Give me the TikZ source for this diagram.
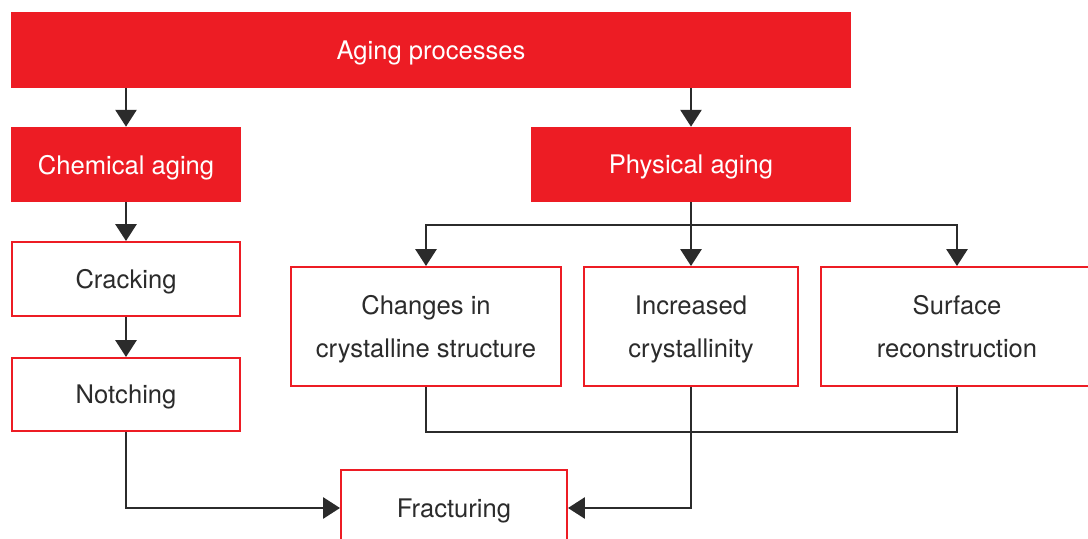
\documentclass[tikz,border=0pt]{standalone}
\usepackage{fontspec}
\setmainfont{TeX Gyre Heros}
\usepackage{tikz}
\usetikzlibrary{arrows.meta,positioning}

\definecolor{agered}{HTML}{ED1C24}
\definecolor{agetext}{HTML}{2B2B2B}

\begin{document}
\begin{tikzpicture}[x=0.025cm,y=-0.025cm]
	
	\tikzset{headbox/.style = {shape=rectangle,fill=agered,text=white,inner sep=0pt,text depth=0pt,font=\fontsize{18.2}{30.5}\selectfont}}
	\tikzset{stepbox/.style = {shape=rectangle,draw=agered,line width=1.4pt,fill=white,text=agetext,inner sep=0pt,text depth=0pt,align=center,font=\fontsize{18.2}{30.5}\selectfont}}
	\tikzset{edge/.style = {-{Triangle[length=12pt,width=15pt]},line width=1.6pt,draw=agetext}}
	\tikzset{link/.style = {line width=1.6pt,draw=agetext}}
	
	\clip (0,0) rectangle (1088,539);
	\fill[white] (0,0) rectangle (1088,539);
	
	\node[headbox,minimum width=21cm,minimum height=1.9cm] (aging) at (431,50) {Aging processes};
	\node[headbox,minimum width=5.725cm,minimum height=1.875cm] (chem) at (126,164.5) {Chemical aging};
	\node[headbox,minimum width=8cm,minimum height=1.875cm] (phys) at (691,164.5) {Physical aging};
	
	\node[stepbox,minimum width=5.7cm,minimum height=1.85cm] (crack) at (126,279) {Cracking};
	\node[stepbox,minimum width=5.7cm,minimum height=1.825cm] (notch) at (126,394.5) {Notching};
	
	\node[stepbox,minimum width=6.75cm,minimum height=2.975cm] (changes) at (426,326.5) {Changes in\\crystalline structure};
	\node[stepbox,minimum width=5.35cm,minimum height=2.975cm] (incr) at (691,326.5) {Increased\\crystallinity};
	\node[stepbox,minimum width=6.8cm,minimum height=2.975cm] (surf) at (957,326.5) {Surface\\reconstruction};
	
	\node[stepbox,minimum width=5.65cm,minimum height=1.9cm] (fract) at (454,508) {Fracturing};
	
	\coordinate (split) at (691,225);
	
	\draw[edge] (aging.south -| chem.north) -- (chem.north);
	\draw[edge] (aging.south -| phys.north) -- (phys.north);
	\draw[edge] (chem) -- (crack);
	\draw[edge] (crack) -- (notch);
	
	\draw[edge] (phys.south) -- (incr.north);
	\draw[edge] (split) -| (changes.north);
	\draw[edge] (split) -| (surf.north);
	
	\draw[link] (changes.south) -- ++(0,45) -| (surf.south);
	\draw[edge] (incr.south) |- (fract.east);
	\draw[edge] (notch.south) |- (fract.west);
	\end{tikzpicture}
\end{document}
